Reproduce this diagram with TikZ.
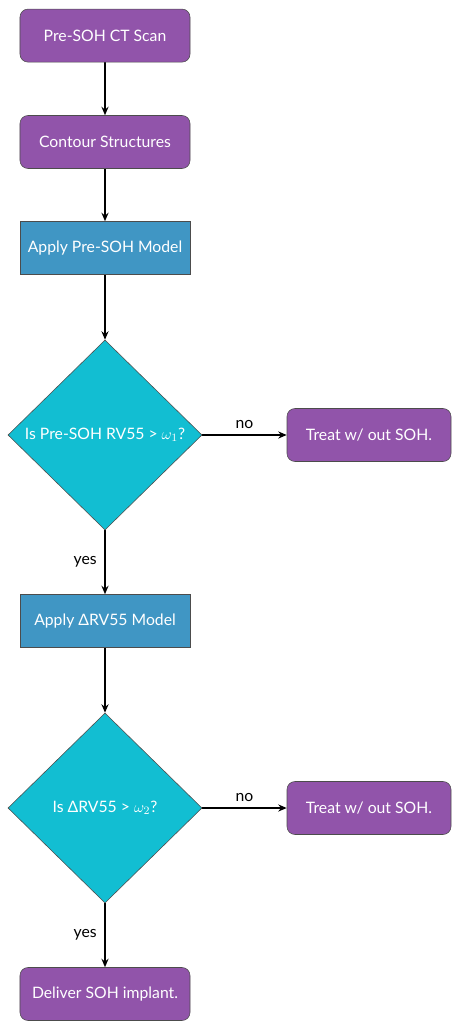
\documentclass[tikz,border=0pt]{standalone}
\usepackage{fontspec}
\setmainfont{Lato}
\usetikzlibrary{shapes.geometric,arrows.meta}
\pgfdeclarelayer{edgelayer}
\pgfdeclarelayer{nodelayer}
\pgfsetlayers{edgelayer,nodelayer,main}
\definecolor{stepviolet}{RGB}{145,84,170}
\definecolor{modelblue}{RGB}{64,150,196}
\definecolor{testcyan}{RGB}{18,190,210}
\tikzset{font=\fontsize{11.2}{13}\selectfont}
\tikzstyle{none}=[inner sep=0pt]
\tikzstyle{stepbox}=[rectangle,rounded corners=0.2cm,draw=black!70,line width=0.4pt,fill=stepviolet,text=white,minimum width=4.25cm,minimum height=1.325cm]
\tikzstyle{sidebox}=[stepbox,minimum width=4.1cm]
\tikzstyle{modelbox}=[rectangle,draw=black!70,line width=0.4pt,fill=modelblue,text=white,minimum width=4.25cm,minimum height=1.325cm]
\tikzstyle{decision}=[diamond,draw=black!70,line width=0.4pt,fill=testcyan,inner sep=0pt,minimum width=4.85cm,minimum height=4.75cm]
\tikzstyle{dtext}=[inner sep=0pt,text=white]
\tikzstyle{flow}=[line width=1.1pt,-{Stealth[length=6pt,width=5pt]}]

\begin{document}
\begin{tikzpicture}
	\useasboundingbox (-2.625, 0) rectangle (8.675, -25.525);
	\begin{pgfonlayer}{nodelayer}
		\node [style=stepbox] (0) at (0, -0.89) {Pre-SOH CT Scan};
		\node [style=stepbox] (1) at (0, -3.55) {Contour Structures};
		\node [style=modelbox] (2) at (0, -6.2) {Apply Pre-SOH Model};
		\node [style=decision] (3) at (0, -10.875) {};
		\node [style=dtext] (4) at (3) {Is Pre-SOH RV55 > $\omega_1$?};
		\node [style=sidebox] (5) at (6.6, -10.875) {Treat w/ out SOH.};
		\node [style=modelbox] (6) at (0, -15.525) {Apply ΔRV55 Model};
		\node [style=decision] (7) at (0, -20.2) {};
		\node [style=dtext] (8) at (7) {Is ΔRV55 > $\omega_2$?};
		\node [style=sidebox] (9) at (6.6, -20.2) {Treat w/ out SOH.};
		\node [style=stepbox] (10) at (0, -24.85) {Deliver SOH implant.};
	\end{pgfonlayer}
	\begin{pgfonlayer}{edgelayer}
		\draw [style=flow] (0) to (1);
		\draw [style=flow] (1) to (2);
		\draw [style=flow] (2) to (3);
		\draw [style=flow] (3) to node [above=0.5pt] {no} (5);
		\draw [style=flow] (3) to node [left=2pt] {yes} (6);
		\draw [style=flow] (6) to (7);
		\draw [style=flow] (7) to node [above=0.5pt] {no} (9);
		\draw [style=flow] (7) to node [left=2pt] {yes} (10);
	\end{pgfonlayer}
\end{tikzpicture}
\end{document}
